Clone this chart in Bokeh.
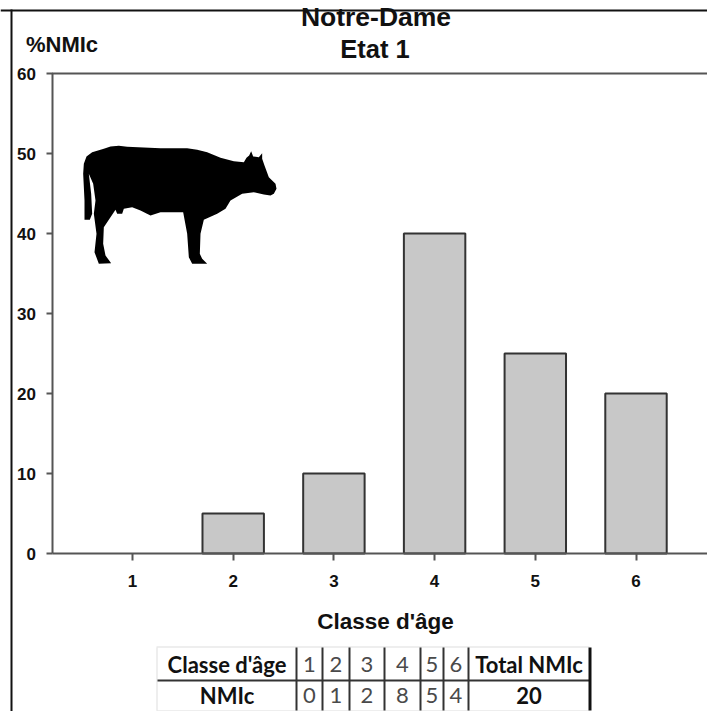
from bokeh.plotting import figure
from bokeh.models import Label, BoxAnnotation, PolyAnnotation, FixedTicker, LinearAxis, Range1d
from bokeh.embed import file_html
from bokeh.resources import INLINE

classes = [1, 2, 3, 4, 5, 6]
pct_nmic = [0, 5, 10, 40, 25, 20]
y_ticks = [0, 10, 20, 30, 40, 50, 60]
nmic = [0, 1, 2, 8, 5, 4]
total_nmic = 20
title_lines = ["Notre-Dame", "Etat 1"]
y_title = "%NMIc"
x_title = "Classe d'âge"
row_head = "Classe d'âge"
row_foot = "NMIc"
total_head = "Total NMIc"

cow_zx = [150,175,200,300,380,410,440,480,520,550,558,566,572,578,595,605,605,612,625,645,648,640,630,610,580,545,510,495,470,430,420,418,425,440,395,385,380,368,300,270,240,215,190,185,170,165,150,130,128,135,152,115,102,108,100,105,98,85,92,95,88,72,72,68,70,78,95,130]
cow_zy = [438,436,439,443,443,448,455,472,482,485,472,465,452,468,470,458,475,495,530,550,565,580,585,582,575,580,600,625,640,658,700,760,775,790,790,770,700,635,635,645,630,620,625,640,640,628,650,680,730,765,788,790,755,700,640,600,550,520,580,640,658,658,600,520,490,468,455,445]

W, H = 707, 711
INK = "#111111"
AXIS = "#555555"
PX_X = 100.7  # px per class
PX_Y = 8.0    # px per percent
X1, Y0 = 132, 553  # page px of class 1 and of 0 %

x_end = 1 + (W - X1) / PX_X
p = figure(width=W, height=H, output_backend="svg", toolbar_location=None,
           x_range=Range1d(1 - X1 / PX_X, x_end),
           y_range=Range1d(-(H - Y0) / PX_Y, Y0 / PX_Y),
           x_axis_type=None, y_axis_type=None,
           min_border=0)
p.outline_line_color = None
p.background_fill_color = "white"
p.border_fill_color = "white"
p.grid.visible = False

x0 = 1 - (X1 - 51.5) / PX_X
xa = LinearAxis(ticker=FixedTicker(ticks=classes), fixed_location=0, bounds=(x0, x_end))
ya = LinearAxis(ticker=FixedTicker(ticks=y_ticks), fixed_location=x0, bounds=(0, 60))
for a, out, st in ((xa, 7, 14), (ya, 6, 10)):
    a.axis_line_color = AXIS
    a.axis_line_width = 2
    a.major_tick_line_color = AXIS
    a.major_tick_line_width = 2
    a.major_tick_in = 0
    a.major_tick_out = out
    a.minor_tick_line_color = None
    a.major_label_text_font = "Liberation Sans"
    a.major_label_text_font_style = "bold"
    a.major_label_text_font_size = "17px"
    a.major_label_text_color = INK
    a.major_label_standoff = st
p.add_layout(xa, "below")
p.add_layout(ya, "left")
p.segment(x0=[x0], x1=[x_end], y0=[60], y1=[60], line_color=AXIS, line_width=2)

p.vbar(x=classes, top=pct_nmic, width=0.61, fill_color="#c8c8c8", line_color="#333333", line_width=2,
       line_alpha=[1 if v > 0 else 0 for v in pct_nmic])

def box(l, t, r, b, color):
    p.add_layout(BoxAnnotation(left=l, right=r, top=t, bottom=b,
                               left_units="canvas", right_units="canvas", top_units="canvas", bottom_units="canvas",
                               fill_color=color, fill_alpha=1, line_color=None, level="annotation"))

def text(x, y, s, size, font="Liberation Sans", style="bold", color=INK, align="center"):
    # y is the wanted baseline in page pixels
    p.add_layout(Label(x=x, y=y - round(size * 0.37), x_units="canvas", y_units="canvas", text=s,
                       text_font=font, text_font_style=style, text_font_size=f"{size}px",
                       text_color=color, text_align=align, text_baseline="alphabetic"))

p.add_layout(PolyAnnotation(xs=[60 + v / 3 for v in cow_zx], ys=[v / 3 for v in cow_zy],
                            xs_units="canvas", ys_units="canvas",
                            fill_color="black", fill_alpha=1, line_color=None, level="annotation"))

text(375.5, 26, title_lines[0], 26.5)
text(374.5, 57, title_lines[1], 25.5)
text(61.5, 52, y_title, 22)
text(385, 629, x_title, 22.5)

box(0, 9, 707, 11, "#111111")
box(10, 9, 12, 711, "#111111")

col_edges = [157, 296, 322, 349, 384, 420, 443, 468, 589]
top, mid, bot = 647, 680, 710
box(156, top - 1, 589, top, "#dddddd")
box(156, bot, 589, bot + 1, "#dddddd")
box(156, top, 157, bot, "#dddddd")
box(157, mid - 1, 589, mid + 1, "#333333")
for e in col_edges[1:-1]:
    box(e - 1, top, e + 1, bot, "#333333")
box(col_edges[-1] - 1, top, col_edges[-1] + 2, bot, "#111111")

text((col_edges[0] + col_edges[1]) / 2, 672, row_head, 22, "Lato")
text((col_edges[0] + col_edges[1]) / 2, 703, row_foot, 22, "Lato")
for i, c in enumerate(classes):
    cx = (col_edges[i + 1] + col_edges[i + 2]) / 2
    text(cx, 672, str(c), 22, "Lato", "normal", "#4a4a4a")
    text(cx, 703, str(nmic[i]), 22, "Lato", "normal", "#4a4a4a")
text((col_edges[-2] + col_edges[-1]) / 2, 672, total_head, 22, "Lato")
text((col_edges[-2] + col_edges[-1]) / 2, 703, str(total_nmic), 22, "Lato")

open("out.html", "w").write(file_html(p, INLINE))
